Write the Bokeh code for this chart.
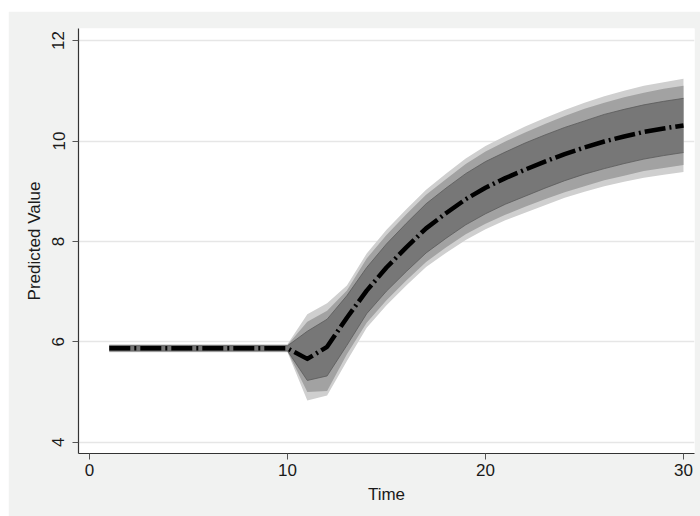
from bokeh.plotting import figure
from bokeh.models import Range1d, FixedTicker
from bokeh.embed import file_html
from bokeh.resources import INLINE

# ---- data ----
time = list(range(1, 31))
predicted = [5.87]*10 + [5.66, 5.90, 6.48, 7.02, 7.48, 7.88, 8.26, 8.56, 8.84, 9.07,
                         9.26, 9.43, 9.59, 9.74, 9.87, 9.99, 10.09, 10.18, 10.25, 10.31]

inner_upper = [5.92]*10 + [6.21, 6.45, 6.92, 7.48, 7.95, 8.36, 8.75, 9.06, 9.35, 9.59,
                           9.78, 9.96, 10.12, 10.27, 10.40, 10.53, 10.63, 10.72, 10.79, 10.85]
inner_lower = [5.82]*10 + [5.23, 5.32, 5.93, 6.56, 7.01, 7.40, 7.77, 8.06, 8.33, 8.55,
                           8.74, 8.90, 9.06, 9.21, 9.34, 9.45, 9.55, 9.64, 9.71, 9.77]
mid_upper = [5.935]*10 + [6.40, 6.62, 7.02, 7.66, 8.13, 8.54, 8.93, 9.24, 9.54, 9.79,
                          9.99, 10.17, 10.34, 10.50, 10.64, 10.76, 10.87, 10.96, 11.04, 11.10]
mid_lower = [5.805]*10 + [5.00, 5.02, 5.75, 6.38, 6.83, 7.22, 7.59, 7.88, 8.14, 8.35,
                          8.53, 8.69, 8.84, 8.98, 9.10, 9.22, 9.31, 9.40, 9.46, 9.52]
outer_upper = [5.95]*10 + [6.55, 6.77, 7.12, 7.76, 8.23, 8.64, 9.03, 9.35, 9.65, 9.90,
                           10.10, 10.29, 10.46, 10.62, 10.76, 10.89, 11.00, 11.10, 11.17, 11.24]
outer_lower = [5.79]*10 + [4.83, 4.93, 5.62, 6.28, 6.73, 7.12, 7.49, 7.77, 8.03, 8.24,
                           8.42, 8.57, 8.72, 8.87, 8.99, 9.10, 9.19, 9.27, 9.33, 9.38]

x_ticks = [0, 10, 20, 30]
y_ticks = [4, 6, 8, 10, 12]

FONT = "Liberation Sans"
TXT = "#1a1a1a"

p = figure(width=692, height=505, output_backend="svg", toolbar_location=None,
           x_range=Range1d(-0.556, 30.556), y_range=Range1d(3.775, 12.241),
           min_border_left=70, min_border_right=6, min_border_top=17, min_border_bottom=63)
p.margin = (11, 0, 0, 8)

p.background_fill_color = "white"
p.border_fill_color = "#f1f2f1"
p.outline_line_color = None

# bands
p.varea(x=time, y1=outer_lower, y2=outer_upper, fill_color="#cfcfcf")
p.varea(x=time, y1=mid_lower, y2=mid_upper, fill_color="#a2a2a2")
p.varea(x=time, y1=inner_lower, y2=inner_upper, fill_color="#777777")
p.line(x=time, y=inner_upper, line_color="#5a5a5a", line_width=0.8)
p.line(x=time, y=inner_lower, line_color="#5a5a5a", line_width=0.8)

# predicted line
p.line(x=time, y=predicted, line_color="black", line_width=4.5,
       line_dash="21 4 2 4", line_cap="butt", line_join="round")

# grid
p.xgrid.visible = False
p.ygrid.ticker = FixedTicker(ticks=y_ticks)
p.ygrid.grid_line_color = "#e6e6e6"
p.ygrid.grid_line_width = 1.5

# axes
p.xaxis.ticker = FixedTicker(ticks=x_ticks)
p.yaxis.ticker = FixedTicker(ticks=y_ticks)
p.xaxis.axis_label = "Time"
p.yaxis.axis_label = "Predicted Value"
p.yaxis.major_label_orientation = "vertical"

for ax in (p.xaxis[0], p.yaxis[0]):
    ax.axis_line_color = "#333333"
    ax.axis_line_width = 1.2
    ax.major_tick_line_color = "#555555"
    ax.major_tick_line_width = 1
    ax.major_tick_out = 6
    ax.major_tick_in = 0
    ax.minor_tick_line_color = None
    ax.major_label_text_font = FONT
    ax.major_label_text_font_size = "17px"
    ax.major_label_text_color = TXT
    ax.axis_label_text_font = FONT
    ax.axis_label_text_font_size = "17px"
    ax.axis_label_text_font_style = "normal"
    ax.axis_label_text_color = TXT

p.xaxis.major_label_standoff = 4
p.xaxis.axis_label_standoff = 6
p.yaxis.major_label_standoff = 8
p.yaxis.axis_label_standoff = 6

open("out.html", "w").write(file_html(p, INLINE))
